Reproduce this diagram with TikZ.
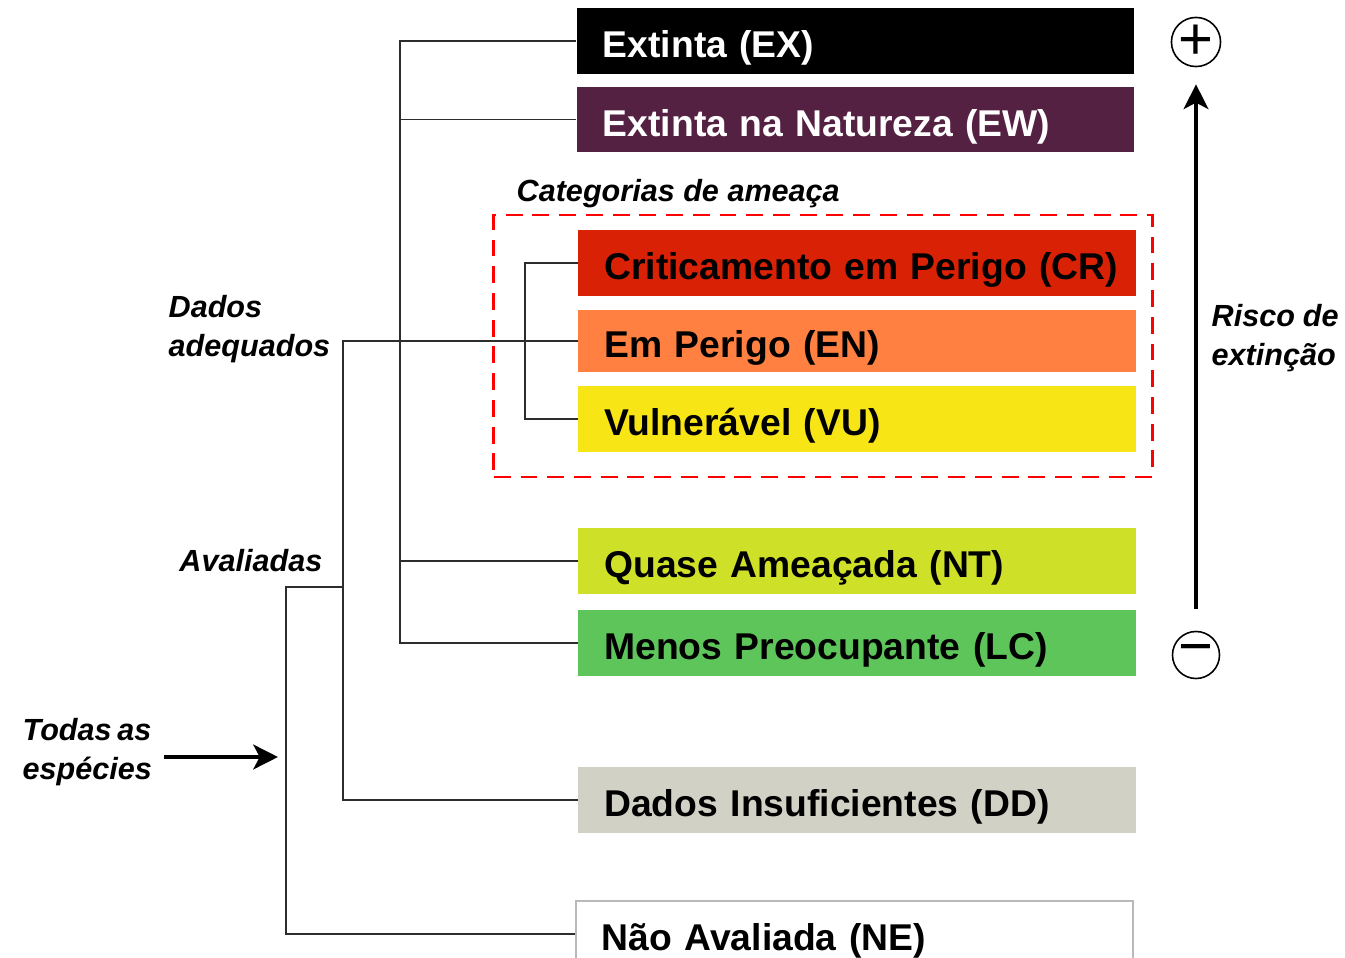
\documentclass[tikz,border=0pt]{standalone}
\usepackage{fontspec}
\setmainfont{Liberation Sans}
\usetikzlibrary{arrows.meta,calc}
\definecolor{cEW}{RGB}{85,33,67}
\definecolor{cCR}{RGB}{217,33,6}
\definecolor{cEN}{RGB}{255,128,64}
\definecolor{cVU}{RGB}{248,229,22}
\definecolor{cNT}{RGB}{206,224,40}
\definecolor{cLC}{RGB}{94,197,90}
\definecolor{cDD}{RGB}{209,209,197}
\definecolor{cNEb}{RGB}{185,185,185}
\definecolor{connc}{RGB}{45,45,45}
\newcommand{\boxfont}{\bfseries\fontsize{10.6}{12}\selectfont}
\newcommand{\labfont}{\bfseries\itshape\fontsize{8.7}{10.9}\selectfont}
\tikzset{
  catbox/.style={minimum height=0.66cm, inner xsep=0pt, inner ysep=0pt,
    text width=5.57cm, align=left, font=\boxfont, text=black,
    text height=10pt, text depth=0.6pt,
    execute at begin node={\hspace*{0.26cm}}},
  conn/.style={draw=connc, line width=0.45pt},
  bigarrow/.style={line width=1.25pt, -{Stealth[length=7pt,width=7pt,inset=1.8pt]}},
  lab/.style={inner sep=0pt, font=\labfont, align=left},
  sign/.style={circle, draw, line width=0.45pt, minimum size=0.47cm, inner sep=0pt}
}
\begin{document}
\begin{tikzpicture}[x=0.01cm,y=-0.01cm]
\clip (0,0) rectangle (1345,958);
\fill[white] (0,0) rectangle (1345,958);

% category boxes
\node[catbox, fill=black, text=white] (EX) at (855.5,41) {Extinta (EX)};
\node[catbox, fill=cEW, text=white, minimum height=0.65cm] (EW) at (855.5,119.5) {Extinta na Natureza (EW)};
\node[catbox, fill=cCR] (CR) at (857,263) {Criticamento em Perigo (CR)};
\node[catbox, fill=cEN, minimum height=0.62cm] (EN) at (857,341) {Em Perigo (EN)};
\node[catbox, fill=cVU] (VU) at (857,419) {Vulnerável (VU)};
\node[catbox, fill=cNT] (NT) at (857,561) {Quase Ameaçada (NT)};
\node[catbox, fill=cLC] (LC) at (857,643) {Menos Preocupante (LC)};
\node[catbox, fill=cDD] (DD) at (857,800) {Dados Insuficientes (DD)};
\node[catbox, fill=white, draw=cNEb, line width=0.4pt] (NE) at (854.5,934) {Não Avaliada (NE)};

% threat group
\node[draw=red, dashed, line width=0.8pt, dash pattern=on 4.8pt off 2.8pt,
      minimum width=6.58cm, minimum height=2.62cm, inner sep=0pt] (threat) at (823,346) {};
\node[lab, anchor=west] (catlab) at (516,194) {Categorias de ameaça};

% labels
\node[lab, anchor=west] (adeq) at (168,329) {Dados\\adequados};
\node[lab, anchor=east] (aval) at (323,561) {Avaliadas};
\node[lab, anchor=west] (todas) at (22,752) {\makebox[36.4pt][s]{Todas as}\\espécies};
\node[lab, anchor=west] (risco) at (1211,338) {\makebox[36.1pt][s]{Risco de}\\extinção};

% coordinates of the tree
\coordinate (trunkA) at (400,0);
\coordinate (trunkT) at (525,0);
\coordinate (trunkB) at (343,0);
\coordinate (trunkC) at (286,0);
\coordinate (avalJoin) at (343,587);
\coordinate (allIn) at (278,757);

% connectors
\draw[conn] (EX.west) -- (EX.west -| trunkA) |- (LC.west);
\draw[conn] (EW.west) -- (EW.west -| trunkA);
\draw[conn] (NT.west) -- (NT.west -| trunkA);
\draw[conn] (CR.west) -- (CR.west -| trunkT) |- (VU.west);
\draw[conn] (EN.west) -- (EN.west -| trunkB) |- (DD.west);
\draw[conn] (NE.west) -- (NE.west -| trunkC) |- (avalJoin);

% all species arrow
\draw[bigarrow] ($(todas.east |- allIn)+(11,0)$) -- (allIn);

% risk axis
\node[sign] (plus) at (1196,42) {\fontsize{17}{17}\selectfont +};
\node[sign] (minus) at (1196,655) {\fontsize{17}{17}\selectfont −};
\draw[bigarrow, shorten <=0.22cm, shorten >=0.17cm] (minus) -- (plus);
\end{tikzpicture}
\end{document}
